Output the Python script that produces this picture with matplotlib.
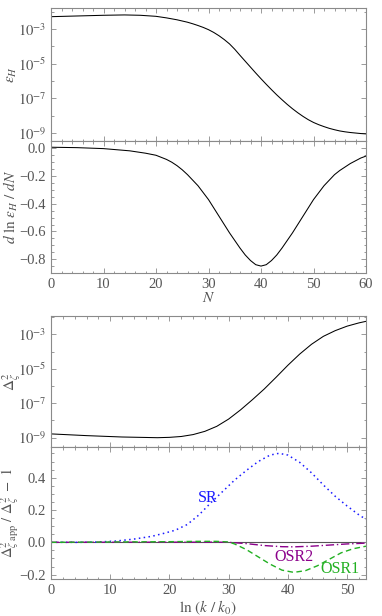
import numpy as np
import matplotlib
matplotlib.use("Agg")
import matplotlib.pyplot as plt
from matplotlib.ticker import FixedLocator, MultipleLocator, FuncFormatter

plt.rcParams["font.family"] = ["Liberation Serif", "DejaVu Serif"]
plt.rcParams["mathtext.fontset"] = "stix"

# epsilon_H versus N (values stored as log10)
N_eps = [0, 5, 10, 14, 17, 20, 22, 24, 25, 26, 27, 28, 29, 30, 31, 32, 33, 34, 35, 36, 37, 38, 39, 40,
         41, 42, 43, 44, 45, 46, 47, 48, 49, 50, 51, 52, 53, 54, 55, 56, 57, 58, 59, 60]
log_eps_H = [-2.29, -2.25, -2.21, -2.19, -2.21, -2.27, -2.36, -2.47, -2.54, -2.61, -2.70, -2.80, -2.91,
             -3.04, -3.20, -3.39, -3.61, -3.86, -4.17, -4.52, -4.86, -5.20, -5.54, -5.87, -6.19, -6.50,
             -6.80, -7.08, -7.35, -7.60, -7.83, -8.04, -8.23, -8.39, -8.52, -8.63, -8.73, -8.81, -8.88,
             -8.93, -8.97, -9.00, -9.03, -9.05]

# d ln eps_H / dN
N_deriv = [0, 5, 10, 15, 18, 20, 22, 23, 24, 25, 26, 27, 28, 29, 30, 31, 32, 33, 34, 35, 36, 37, 38,
           39, 40, 41, 42, 43, 44, 45, 46, 47, 48, 49, 50, 51, 52, 53, 54, 55, 56, 57, 58, 59, 60]
dln_eps = [0.008, 0.005, -0.002, -0.018, -0.035, -0.05, -0.08, -0.10, -0.125, -0.155, -0.19, -0.23,
           -0.27, -0.32, -0.37, -0.43, -0.49, -0.55, -0.61, -0.665, -0.72, -0.77, -0.81, -0.84, -0.85,
           -0.84, -0.81, -0.77, -0.72, -0.665, -0.61, -0.55, -0.49, -0.43, -0.37, -0.32, -0.27, -0.23,
           -0.19, -0.16, -0.135, -0.11, -0.09, -0.07, -0.056]

# power spectrum versus ln(k/k0) (log10)
lnk_P = [0, 3, 6, 9, 12, 15, 18, 20, 22, 24, 26, 28, 30, 32, 34, 36, 38, 40, 42, 44, 46, 48, 50, 52, 53.2]
log_Delta2 = [-8.78, -8.83, -8.88, -8.92, -8.96, -8.98, -9.00, -8.98, -8.93, -8.82, -8.63, -8.34, -7.92,
              -7.39, -6.80, -6.18, -5.50, -4.80, -4.15, -3.58, -3.12, -2.79, -2.53, -2.34, -2.25]

# relative errors of approximations
lnk_SR = [0, 5, 8, 11, 14, 17, 19, 21, 23, 25, 27, 29, 31, 33, 35, 37, 38.5, 40, 42, 44, 46, 48, 50,
          52, 53.2]
err_SR = [0, 0, 0.002, 0.008, 0.02, 0.037, 0.055, 0.075, 0.11, 0.17, 0.245, 0.315, 0.385, 0.445, 0.50,
          0.54, 0.551, 0.54, 0.495, 0.43, 0.355, 0.285, 0.225, 0.17, 0.142]
lnk_OSR1 = [0, 10, 20, 25, 28, 30, 31, 33, 35, 37, 39, 41, 43, 45, 47, 49, 51, 53.2]
err_OSR1 = [0, 0.002, 0.004, 0.006, 0.006, 0.002, -0.01, -0.045, -0.09, -0.135, -0.172, -0.186, -0.175,
            -0.145, -0.105, -0.065, -0.04, -0.024]
lnk_OSR2 = [0, 20, 28, 30, 33, 36, 39, 41, 44, 47, 50, 53.2]
err_OSR2 = [0, 0.001, 0.001, 0.0, -0.008, -0.02, -0.027, -0.028, -0.024, -0.017, -0.01, -0.005]

frame_col = "#8a8a8a"
text_col = "#555555"
W, H = 382, 616


def make_axes(top, bottom):
    left, right = 51, 366
    return fig.add_axes([left / W, 1 - bottom / H, (right - left) / W, (bottom - top) / H])


def style(ax):
    for s in ax.spines.values():
        s.set_color(frame_col)
        s.set_linewidth(0.8)
    ax.tick_params(which="both", direction="in", top=True, right=True, color=frame_col,
                   labelcolor=text_col, labelsize=10.5, width=0.6)
    ax.tick_params(which="major", length=3.5)
    ax.tick_params(which="minor", length=1.8)


def set_ylab(ax, text, x_px, size=11):
    ax.set_ylabel(text, color=text_col, fontsize=size)
    ax.yaxis.set_label_coords((x_px - 51) / 315, 0.5)
    ax.yaxis.label.set_va("center")


pow_fmt = FuncFormatter(lambda v, p: r"$10^{%d}$" % round(np.log10(v)))
dec_fmt = FuncFormatter(lambda v, p: ("%.1f" % v).replace("-", "\u2212"))

fig = plt.figure(figsize=(W / 100, H / 100), dpi=100)

ax1 = make_axes(8, 141)
ax2 = make_axes(141, 273)
ax3 = make_axes(316, 447)
ax4 = make_axes(447, 579)

# epsilon_H
ax1.plot(N_eps, 10 ** np.array(log_eps_H), color="black", lw=0.75)
ax1.set_yscale("log")
ax1.set_ylim(10 ** -9.46, 10 ** -1.79)
ax1.set_xlim(0, 60)
ax1.yaxis.set_major_locator(FixedLocator([1e-9, 1e-7, 1e-5, 1e-3]))
ax1.yaxis.set_minor_locator(FixedLocator([1e-8, 1e-6, 1e-4, 1e-2]))
ax1.yaxis.set_major_formatter(pow_fmt)
ax1.yaxis.set_minor_formatter(FuncFormatter(lambda v, p: ""))
ax1.xaxis.set_major_locator(MultipleLocator(10))
ax1.xaxis.set_minor_locator(MultipleLocator(2))
ax1.set_xticklabels([])
style(ax1)
set_ylab(ax1, r"$\epsilon_H$", 12)

# derivative
ax2.plot(N_deriv, dln_eps, color="black", lw=0.75)
ax2.set_xlim(0, 60)
ax2.set_ylim(-0.9, 0.053)
ax2.xaxis.set_major_locator(MultipleLocator(10))
ax2.xaxis.set_minor_locator(MultipleLocator(2))
ax2.yaxis.set_major_locator(MultipleLocator(0.2))
ax2.yaxis.set_minor_locator(MultipleLocator(0.05))
ax2.yaxis.set_major_formatter(dec_fmt)
style(ax2)
set_ylab(ax2, r"$d\ \ln\,\epsilon_H\ /\ dN$", 11)
ax2.set_xlabel(r"$N$", color=text_col, fontsize=11, labelpad=0)

# power spectrum
ax3.plot(lnk_P, 10 ** np.array(log_Delta2), color="black", lw=0.75)
ax3.set_yscale("log")
ax3.set_ylim(10 ** -9.54, 10 ** -1.94)
ax3.set_xlim(0, 53.2)
ax3.yaxis.set_major_locator(FixedLocator([1e-9, 1e-7, 1e-5, 1e-3]))
ax3.yaxis.set_minor_locator(FixedLocator([1e-8, 1e-6, 1e-4, 1e-2]))
ax3.yaxis.set_major_formatter(pow_fmt)
ax3.yaxis.set_minor_formatter(FuncFormatter(lambda v, p: ""))
ax3.xaxis.set_major_locator(MultipleLocator(10))
ax3.xaxis.set_minor_locator(MultipleLocator(2))
ax3.set_xticklabels([])
style(ax3)
set_ylab(ax3, r"$\Delta^2_\zeta$", 12)

# relative errors
ax4.axhline(0, color="#555555", lw=0.8, zorder=1)
ax4.plot(lnk_SR, err_SR, color="#1a1aff", lw=1.1, ls=(0, (1, 2.2)))
ax4.plot(lnk_OSR2, err_OSR2, color="#8b008b", lw=1.0, ls=(0, (6, 2, 1, 2)))
ax4.plot(lnk_OSR1, err_OSR1, color="#22b022", lw=1.0, ls=(0, (4, 2.5)))
ax4.text(26.5, 0.275, "SR", color="#1a1aff", fontsize=11.5, ha="center", va="center")
ax4.text(41, -0.088, "OSR2", color="#8b008b", fontsize=11.5, ha="center", va="center")
ax4.text(48.8, -0.163, "OSR1", color="#22b022", fontsize=11.5, ha="center", va="center")
ax4.set_xlim(0, 53.2)
ax4.set_ylim(-0.227, 0.59)
ax4.xaxis.set_major_locator(MultipleLocator(10))
ax4.xaxis.set_minor_locator(MultipleLocator(2))
ax4.yaxis.set_major_locator(MultipleLocator(0.2))
ax4.yaxis.set_minor_locator(MultipleLocator(0.05))
ax4.yaxis.set_major_formatter(dec_fmt)
style(ax4)
set_ylab(ax4, r"$\Delta^2_{\zeta\ \mathrm{app}}\ /\ \Delta^2_\zeta\ -\ 1$", 10, size=10.5)
ax4.set_xlabel(r"$\mathrm{ln}\ (k\ /\ k_0)$", color=text_col, fontsize=11, labelpad=1)

fig.savefig("out.png", dpi=100)
